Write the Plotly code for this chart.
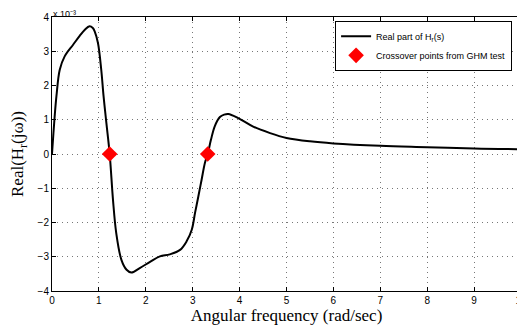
import plotly.graph_objects as go

# Angular frequency (rad/sec)
omega = [0.0, 0.03, 0.06, 0.094, 0.165, 0.27, 0.45, 0.59, 0.70, 0.80, 0.87, 0.91, 0.98, 1.05,
         1.10, 1.16, 1.23, 1.30, 1.37, 1.48, 1.59, 1.69, 1.87, 2.09, 2.30, 2.51, 2.73,
         2.87, 2.98, 3.05, 3.12, 3.19, 3.26, 3.32, 3.39, 3.47, 3.58, 3.67, 3.76, 3.97, 4.29,
         4.65, 5.0, 5.5, 6.0, 7.0, 8.0, 9.0, 10.0]
# Real part of H_r(jw), in units of 1e-3
real_hr = [0.0, 0.6, 1.15, 1.68, 2.46, 2.85, 3.19, 3.45, 3.63, 3.73, 3.68, 3.58, 3.24, 2.46,
           1.68, 0.90, 0.0, -1.33, -2.31, -3.09, -3.38, -3.46, -3.33, -3.15, -2.99, -2.93,
           -2.80, -2.55, -2.21, -1.72, -1.24, -0.75, -0.26, 0.0, 0.42, 0.81, 1.08, 1.15, 1.17,
           1.05, 0.80, 0.61, 0.47, 0.37, 0.31, 0.24, 0.20, 0.16, 0.14]
# Crossover points from GHM test
cross_omega = [1.23, 3.32]
cross_val = [0.0, 0.0]

y_ticks = [-4, -3, -2, -1, 0, 1, 2, 3, 4]
x_ticks = [0, 1, 2, 3, 4, 5, 6, 7, 8, 9, 10]
scale = 1e-3

fig = go.Figure()
fig.add_trace(go.Scatter(
    x=omega, y=[v * scale for v in real_hr], mode="lines",
    line=dict(color="black", width=2, shape="spline", smoothing=1.0),
    name="Real part of H<sub>r</sub>(s)"))
fig.add_trace(go.Scatter(
    x=cross_omega, y=[v * scale for v in cross_val], mode="markers",
    marker=dict(symbol="diamond", color="red", size=12, line=dict(width=0)),
    name="Crossover points from GHM test"))

axis_common = dict(
    showline=True, linecolor="black", linewidth=1, mirror="ticks",
    ticks="inside", ticklen=4, tickcolor="black", automargin=False,
    showgrid=True, gridcolor="#777", griddash="1px,4px", gridwidth=1,
    zeroline=False, tickfont=dict(family="Liberation Sans, Arial", size=10, color="black"),
)
fig.update_xaxes(range=[0, 10], tickvals=x_ticks, ticktext=[str(t) for t in x_ticks],
                 ticklabeloverflow="allow",
                 title=dict(text="Angular frequency (rad/sec)",
                            font=dict(family="Liberation Serif, Times New Roman", size=17, color="black"),
                            standoff=2),
                 **axis_common)
fig.update_yaxes(range=[-4 * scale, 4 * scale], tickvals=[t * scale for t in y_ticks],
                 ticktext=[("\u2212" + str(-t)) if t < 0 else str(t) for t in y_ticks],
                 title=dict(text="Real(H<sub>r</sub>(jω))",
                            font=dict(family="Liberation Serif, Times New Roman", size=17, color="black"),
                            standoff=10),
                 **axis_common)

fig.add_annotation(text="x 10\u207b\u00b3", xref="paper", yref="paper",
                   x=0, y=1, xanchor="left", yanchor="bottom", showarrow=False,
                   font=dict(family="Liberation Sans, Arial", size=9, color="black"),
                   yshift=-3, borderpad=0)

# the page body adds an 8px margin, so the figure is sized to the visible area
fig.update_layout(
    width=517, height=325,
    margin=dict(l=44, r=4, t=9, b=42),
    paper_bgcolor="white", plot_bgcolor="white",
    showlegend=True,
    legend=dict(x=0.981, y=0.986, xanchor="right", yanchor="top",
                bgcolor="white", bordercolor="black", borderwidth=1,
                font=dict(family="Liberation Sans, Arial", size=9, color="black"),
                tracegroupgap=0, itemwidth=30),
)

fig.write_html("out.html")
